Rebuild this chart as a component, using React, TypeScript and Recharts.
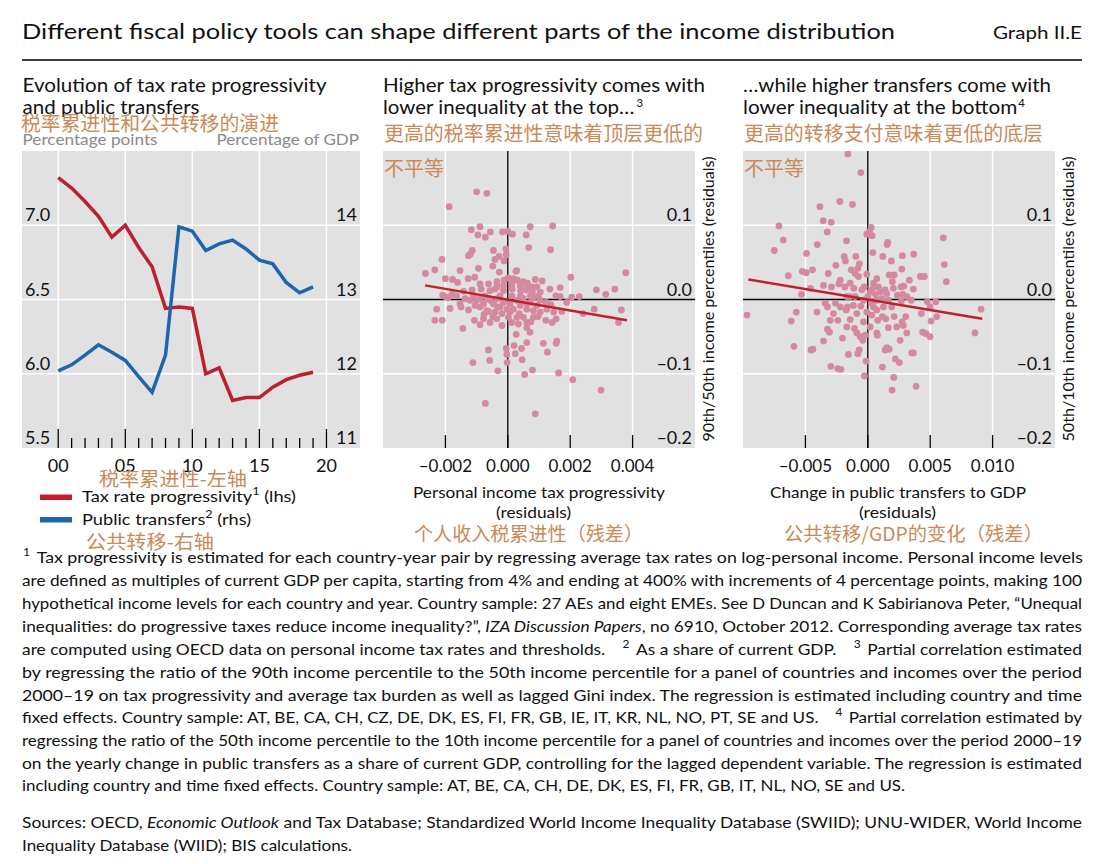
import React from 'react';
import { LineChart, Line, ScatterChart, Scatter, XAxis, YAxis, CartesianGrid, ReferenceLine } from 'recharts';

// Left panel: tax rate progressivity (lhs, pp) and public transfers (rhs, % of GDP)
const years = [2000, 2001, 2002, 2003, 2004, 2005, 2006, 2007, 2008, 2009, 2010, 2011, 2012, 2013, 2014, 2015, 2016, 2017, 2018, 2019];
const taxProgressivity = [7.32, 7.25, 7.16, 7.06, 6.92, 7.0, 6.85, 6.72, 6.44, 6.45, 6.44, 6.0, 6.04, 5.82, 5.84, 5.84, 5.91, 5.96, 5.99, 6.01];
const publicTransfers = [12.04, 12.12, 12.25, 12.39, 12.29, 12.18, 11.96, 11.75, 12.25, 13.98, 13.92, 13.66, 13.75, 13.8, 13.68, 13.53, 13.48, 13.23, 13.09, 13.17];
const yearTicks = [2000, 2001, 2002, 2003, 2004, 2005, 2006, 2007, 2008, 2009, 2010, 2011, 2012, 2013, 2014, 2015, 2016, 2017, 2018, 2019, 2020];
const yearGrid = [2000, 2005, 2010, 2015, 2020];
const lhsTicks = [5.5, 6.0, 6.5, 7.0];
const rhsTicks = [11, 12, 13, 14];

// Middle panel: 90th/50th residuals vs tax progressivity residuals
const topX = [
  -0.001, -0.00067, -0.00188, -0.00117, -0.00089, -0.00096, -0.00072, -0.00056, -0.00017, 0.0,
  0.00015, 0.00059, 0.00072, 0.00144, -0.00114, -0.00126, -0.0012, -0.00046, -0.00006, 0.00067,
  0.00137, -0.00211, -0.00041, -0.00028, -0.00012, -0.00005, -0.00264, -0.00234, -0.00153, -0.00094,
  -0.00048, -0.00027, 0.00026, 0.00029, -0.002, -0.00177, -0.00161, -0.00127, -0.00106, -0.00035,
  -0.00012, 0.00001, 0.00018, 0.00031, 0.0005, 0.00063, 0.00088, 0.0011, 0.00202, 0.00378,
  -0.00209, -0.00201, -0.00178, -0.00142, -0.00114, -0.00085, -0.00057, -0.00041, -0.00014, 0.00014,
  0.00041, 0.00059, 0.00079, 0.00097, 0.00135, 0.00154, 0.00168, 0.00168, 0.00229, 0.00284,
  0.00314, 0.00343, -0.00228, -0.00234, -0.0021, -0.00185, -0.0015, -0.00144, -0.00126, -0.00107,
  -0.00089, -0.00076, -0.00062, -0.00048, -0.00033, -0.00019, 0.00002, 0.00018, 0.00037, 0.00061,
  0.00074, 0.00097, 0.00122, 0.00142, 0.00155, 0.00123, 0.00138, 0.00241, 0.00277, 0.00355,
  0.00364, -0.001, -0.00078, -0.00057, -0.00035, -0.00014, 0.00007, 0.00029, 0.0005, 0.00072,
  0.00093, -0.00089, -0.00067, -0.00041, -0.00019, 0.00007, 0.00029, 0.0005, 0.00082, -0.0011,
  -0.00025, 0.0004, 0.00072, 0.00104, -0.00073, 0.00013, 0.00061, 0.00071, 0.00027, 0.00061,
  0.00044, 0.0002, 0.00024, -0.00005, -0.00003, -0.00002, -0.00062, -0.00058, -0.00112, -0.00032,
  0.00046, 0.00054, 0.00079, 0.00114, 0.00127, 0.00157, 0.00155, 0.00163, 0.00208, 0.00299, -0.00072, 0.00088,
  -0.00089, -0.00067, -0.00046, -0.00025, -0.00003, 0.0004, 0.00061, 0.00082, 0.00104, 0.00093,
  0.00077, 0.00061, 0.0004, 0.00013, -0.00014, -0.00035, -0.00062, -0.00089, -0.00105, -0.00121,
  -0.00137, -0.00153, -0.0019, -0.00164, -0.00078, -0.00057, -0.00035, 0.00013, 0.00034, 0.00061,
  0.00082, 0.00104, 0.00125, 0.00147, 0.00173, 0.00189, 0.00205,
];
const topY = [
  0.145, 0.143, 0.125, 0.094, 0.098, 0.087, 0.084, 0.091, 0.091, 0.092,
  0.088, 0.087, 0.098, 0.099, 0.066, 0.059, 0.061, 0.066, 0.068, 0.07,
  0.067, 0.054, 0.054, 0.058, 0.052, 0.06, 0.035, 0.04, 0.039, 0.042,
  0.045, 0.037, 0.038, 0.039, 0.028, 0.027, 0.023, 0.028, 0.03, 0.024,
  0.026, 0.029, 0.028, 0.026, 0.024, 0.022, 0.027, 0.025, 0.03, 0.036,
  0.006, 0.004, 0.007, 0.011, 0.013, 0.014, 0.012, 0.014, 0.012, 0.014,
  0.012, 0.013, 0.01, 0.004, 0.014, 0.005, 0.016, 0.004, 0.004, 0.013,
  0.007, 0.014, -0.013, -0.028, -0.028, -0.012, -0.01, -0.039, -0.014, -0.028,
  -0.034, -0.02, -0.016, -0.023, -0.01, -0.035, -0.024, -0.013, -0.019, -0.013,
  -0.03, -0.023, -0.028, -0.031, -0.026, -0.004, -0.007, -0.019, -0.013, -0.031,
  -0.014, -0.001, -0.006, -0.001, 0.001, -0.004, -0.006, -0.001, 0.001, -0.004,
  -0.008, -0.01, -0.015, -0.017, -0.019, -0.017, -0.024, -0.024, -0.015, 0.005,
  0.005, 0.005, 0.005, -0.001, 0.005, 0.005, -0.038, -0.044, -0.047, -0.058,
  -0.066, -0.062, -0.073, -0.066, -0.074, -0.085, -0.068, -0.082, -0.085, -0.096,
  -0.081, -0.101, -0.095, -0.059, -0.071, -0.056, -0.059, -0.099, -0.108, -0.122, -0.14, -0.154,
  0.001, 0.001, -0.006, -0.01, -0.013, -0.008, -0.005, 0.003, 0.01, 0.017,
  0.017, 0.019, 0.019, 0.021, 0.019, 0.017, 0.021, 0.021, -0.008, -0.001,
  0.001, -0.006, 0.003, 0.005, -0.026, -0.031, -0.026, -0.031, -0.033, -0.031,
  -0.024, -0.017, -0.013, -0.017, -0.016, -0.004, 0.003,
];
const topFitX = [-0.00265, 0.00382];
const topFitY = [0.019, -0.028];
const topXTicks = [-0.004, -0.002, 0, 0.002, 0.004];

// Right panel: 50th/10th residuals vs change in public transfers
const botX = [
  -0.0016, -0.00056, -0.00384, -0.00224, -0.00123, -0.00357, -0.00293, -0.00325, -0.00712, -0.00677,
  -0.00749, -0.00405, -0.00171, 0.00027, -0.00008, 0.00035, 0.00013, 0.0016, 0.00155, 0.00605,
  0.00613, 0.00629, -0.00491, -0.00189, -0.00096, 0.0004, 0.0012, 0.00189, 0.00277, 0.00368,
  -0.00256, -0.00179, -0.00133, -0.00101, -0.00067, -0.0008, -0.00637, -0.00525, -0.00493, -0.00443,
  -0.00317, -0.00008, 0.00045, 0.00072, 0.00171, 0.00211, 0.00272, 0.00267, 0.00288, 0.00333,
  0.00421, 0.00453, 0.00197, 0.00365, -0.00531, -0.00459, -0.00355, -0.00291, -0.00232, -0.00184,
  -0.00112, -0.00029, 0.0004, 0.00061, 0.00101, 0.00139, 0.00237, 0.0028, -0.00968, -0.00613,
  -0.00573, -0.00592, -0.00456, -0.0044, -0.00408, -0.00355, -0.00323, -0.00307, -0.00341, -0.00323,
  -0.00301, -0.00259, -0.0024, -0.00203, -0.00296, -0.0024, -0.00216, -0.00155, -0.00173, -0.00163,
  -0.00141, -0.00115, -0.00107, -0.00088, -0.00061, -0.0004, -0.00021, -0.00069, -0.0008, -0.00013,
  -0.00027, -0.00056, -0.00008, 0.00032, 0.0008, 0.00072, 0.00077, 0.00117, 0.00144, 0.00165,
  0.00211, 0.00152, 0.00171, 0.00139, 0.00117, 0.00221, 0.00253, 0.00208, 0.00195, 0.00387,
  0.00259, 0.00275, 0.00285, 0.00304, 0.00312, 0.00352, 0.00365, 0.00429, 0.0044, 0.00467,
  0.00499, 0.00507, 0.00477, 0.00544, 0.00552, 0.00499, 0.00349, 0.00269, 0.00859, 0.00907,
  0.0, 0.00032, 0.00072, 0.00112, -0.00035, -0.00101, -0.00168, 0.00165, 0.00045,
  -0.00221, -0.00141, -0.00075, -0.00048, 0.00019, 0.00085, 0.00152, 0.00205, -0.00221, -0.00141,
  -0.00088, -0.00035, 0.00019, 0.00072, 0.00125, 0.00192, 0.00232, -0.00168, -0.00275, 0.00312,
];
const botY = [
  0.196, 0.171, 0.125, 0.132, 0.128, 0.106, 0.104, 0.091, 0.099, 0.08,
  0.066, 0.074, 0.079, 0.097, 0.088, 0.086, 0.091, 0.077, 0.074, 0.083,
  0.047, 0.024, 0.062, 0.058, 0.058, 0.063, 0.058, 0.052, 0.059, 0.061,
  0.046, 0.052, 0.04, 0.035, 0.048, 0.042, 0.032, 0.038, 0.036, 0.04,
  0.035, 0.034, 0.022, 0.028, 0.033, 0.033, 0.041, 0.017, 0.018, 0.026,
  0.031, 0.031, 0.024, 0.014, 0.007, 0.015, 0.019, 0.017, 0.021, 0.017,
  0.015, 0.017, 0.015, 0.007, 0.01, 0.013, 0.006, 0.007, -0.021, -0.029,
  -0.017, -0.063, -0.068, -0.067, -0.017, -0.056, -0.04, -0.044, -0.005, -0.01,
  -0.028, -0.005, -0.028, -0.052, -0.09, -0.093, -0.094, -0.074, -0.014, -0.01,
  -0.027, -0.008, -0.039, -0.045, -0.05, -0.055, -0.048, -0.068, -0.073, -0.083,
  -0.103, -0.009, -0.017, -0.021, -0.028, -0.045, -0.048, -0.023, -0.026, -0.038,
  -0.023, -0.065, -0.067, -0.068, -0.091, -0.08, -0.085, -0.105, -0.122, -0.117,
  -0.055, -0.03, -0.035, -0.023, -0.045, -0.072, -0.072, -0.019, -0.044, -0.046,
  -0.05, -0.029, -0.003, -0.003, -0.023, -0.01, -0.001, -0.002, -0.045, -0.013,
  0.004, -0.005, -0.001, 0.001, -0.001, 0.004, 0.004, -0.001, -0.01,
  0.026, 0.022, 0.031, 0.013, 0.01, 0.017, 0.008, 0.015, -0.01, 0.004,
  -0.019, -0.03, -0.037, -0.014, -0.01, -0.01, -0.037, -0.037, -0.019, 0.004,
];
const botFitX = [-0.00957, 0.00917];
const botFitY = [0.027, -0.026];
const botXTicks = [-0.01, -0.005, 0, 0.005, 0.01];
const residTicks = [-0.2, -0.1, 0, 0.1];

const lineData = years.map((year, i) => ({ year, tax: taxProgressivity[i], transfers: publicTransfers[i] }));
const topData = topX.map((x, i) => ({ x, y: topY[i] }));
const topFit = topFitX.map((x, i) => ({ x, y: topFitY[i] }));
const botData = botX.map((x, i) => ({ x, y: botY[i] }));
const botFit = botFitX.map((x, i) => ({ x, y: botFitY[i] }));

const LATIN = 'Lato, "Open Sans", sans-serif';
const CJK = '"Noto Sans CJK SC", sans-serif';
const RED = '#be1e2d';
const BLUE = '#1f65ad';
const PINK = '#d5899e';
const FIT = '#c21f2e';
const BG = '#e1e1e1';
const ORANGE = '#c98a58';
const GREY = '#8a8a8a';
const INK = '#111';

const minus = (v: number, d: number) => (v < 0 ? '\u2013' + Math.abs(v).toFixed(d) : v.toFixed(d));

const YearTick = (p: any) => {
  const v = p.payload.value;
  const major = v % 5 === 0;
  return (
    <g>
      <line x1={p.x} x2={p.x} y1={p.y} y2={p.y - (major ? 19 : 10)} stroke="#000" strokeWidth={1.3} />
      {major && (
        <text x={p.x} y={p.y + 24} textAnchor="middle" fontSize={18} fill={INK} fontFamily={LATIN}>
          {String(v).slice(2)}
        </text>
      )}
    </g>
  );
};

const makeResidXTick = (first: number) => (p: any) => {
  const v = p.payload.value;
  if (v === first) return <g />;
  return (
    <g>
      <line x1={p.x} x2={p.x} y1={p.y} y2={p.y - 13} stroke="#000" strokeWidth={1.3} />
      <text x={p.x} y={p.y + 24} textAnchor="middle" fontSize={17} fill={INK} fontFamily={LATIN}>
        {minus(v, 3)}
      </text>
    </g>
  );
};

const InsideTick = (anchor: 'start' | 'end', fmt: (v: number) => string) => (p: any) => (
  <text x={p.x} y={p.y - 4} textAnchor={anchor} fontSize={18} fill={INK} fontFamily={LATIN}>
    {fmt(p.payload.value)}
  </text>
);

const Txt = ({ x, y, w, size = 16, fill = INK, font = LATIN, anchor = 'start', transform, italic, children }: any) => (
  <text
    x={x}
    y={y}
    fontSize={size}
    fill={fill}
    fontFamily={font}
    textAnchor={anchor}
    transform={transform}
    fontStyle={italic ? 'italic' : undefined}
    textLength={w}
    lengthAdjust={w ? 'spacingAndGlyphs' : undefined}
  >
    {children}
  </text>
);

const Sup = ({ n, dx = 0 }: { n: string; dx?: number }) => (
  <tspan dx={dx} dy={-7} fontSize={11}>{n}</tspan>
);

const ResidChart = ({ data, fit, domain, ticks, grid, first }: any) => (
  <ScatterChart width={312} height={337} margin={{ top: 0, right: 0, bottom: 0, left: 0 }} style={{ overflow: 'visible' }}>
    <CartesianGrid fill={BG} stroke="#fff" strokeWidth={1.5} verticalValues={grid} horizontalValues={[-0.1, 0.1]} />
    <XAxis
      type="number"
      dataKey="x"
      domain={domain}
      allowDataOverflow
      ticks={ticks}
      interval={0}
      height={40}
      tickSize={0}
      tickMargin={0}
      tickLine={false}
      axisLine={false}
      tick={makeResidXTick(first)}
    />
    <YAxis
      type="number"
      dataKey="y"
      orientation="right"
      mirror
      domain={[-0.2, 0.2]}
      allowDataOverflow
      ticks={residTicks}
      interval={0}
      tickSize={0}
      tickMargin={3}
      tickLine={false}
      axisLine={false}
      tick={InsideTick('end', (v) => (v === 0 ? '0.0' : minus(v, 1)))}
    />
    <ReferenceLine x={0} stroke="#000" strokeWidth={1.3} />
    <ReferenceLine y={0} stroke="#000" strokeWidth={1.3} />
    <Scatter
      data={data}
      isAnimationActive={false}
      shape={(p: any) => <circle cx={p.cx} cy={p.cy} r={3.4} fill={PINK} />}
    />
    <Scatter
      data={fit}
      isAnimationActive={false}
      line={{ stroke: FIT, strokeWidth: 2.5 }}
      shape={() => <g />}
    />
  </ScatterChart>
);

const foot = [563, 586, 609, 632, 655, 678, 701, 723, 746, 769, 791];

export default function App() {
  return (
    <div style={{ position: 'absolute', left: 0, top: 0, width: 1120, height: 864, background: '#fff', overflow: 'hidden' }}>
      <div style={{ position: 'absolute', left: 22, top: 151 }}>
        <LineChart width={338} height={337} data={lineData} margin={{ top: 0, right: 0, bottom: 0, left: 0 }} style={{ overflow: 'visible' }}>
          <CartesianGrid fill={BG} stroke="#fff" strokeWidth={1.5} verticalValues={yearGrid} horizontalValues={[6.0, 6.5, 7.0]} />
          <XAxis
            type="number"
            dataKey="year"
            domain={[1997.3, 2022.5]}
            allowDataOverflow
            ticks={yearTicks}
            interval={0}
            height={40}
            tickSize={0}
            tickMargin={0}
            tickLine={false}
            axisLine={false}
            tick={YearTick}
          />
          <YAxis
            yAxisId={0}
            mirror
            domain={[5.5, 7.5]}
            allowDataOverflow
            ticks={lhsTicks}
            interval={0}
            tickSize={0}
            tickMargin={3}
            tickLine={false}
            axisLine={false}
            tick={InsideTick('start', (v) => v.toFixed(1))}
          />
          <YAxis
            yAxisId="r"
            orientation="right"
            mirror
            domain={[11, 15]}
            allowDataOverflow
            ticks={rhsTicks}
            interval={0}
            tickSize={0}
            tickMargin={3}
            tickLine={false}
            axisLine={false}
            tick={InsideTick('end', (v) => String(v))}
          />
          <Line yAxisId={0} dataKey="tax" stroke={RED} strokeWidth={3.5} dot={false} isAnimationActive={false} />
          <Line yAxisId="r" dataKey="transfers" stroke={BLUE} strokeWidth={3.5} dot={false} isAnimationActive={false} />
        </LineChart>
      </div>

      <div style={{ position: 'absolute', left: 383, top: 151 }}>
        <ResidChart data={topData} fit={topFit} domain={[-0.004, 0.006]} ticks={topXTicks} grid={[-0.002, 0.002, 0.004]} first={-0.004} />
      </div>

      <div style={{ position: 'absolute', left: 743, top: 151 }}>
        <ResidChart data={botData} fit={botFit} domain={[-0.01, 0.015]} ticks={botXTicks} grid={[-0.005, 0.005, 0.01]} first={-0.01} />
      </div>

      <svg width={1120} height={864} style={{ position: 'absolute', left: 0, top: 0, pointerEvents: 'none' }}>
        <Txt x={22} y={39} size={22} w={873}>Different fiscal policy tools can shape different parts of the income distribution</Txt>
        <Txt x={993} y={39} size={17} w={89}>Graph II.E</Txt>
        <line x1={22} x2={1082} y1={60} y2={60} stroke="#000" strokeWidth={1.5} />

        {/* left panel headings */}
        <Txt x={22.5} y={91.5} size={20} w={304}>Evolution of tax rate progressivity</Txt>
        <Txt x={22.5} y={113.5} size={20} w={177}>and public transfers</Txt>
        <Txt x={21} y={131} size={20} w={258} font={CJK} fill={ORANGE}>税率累进性和公共转移的演进</Txt>
        <Txt x={22.5} y={145} size={16} w={135} fill={GREY}>Percentage points</Txt>
        <Txt x={216.5} y={145} size={16} w={142.5} fill={GREY}>Percentage of GDP</Txt>

        {/* middle panel headings */}
        <Txt x={383} y={91.5} size={20} w={322}>Higher tax progressivity comes with</Txt>
        <Txt x={383} y={113.5} size={20} w={260}>lower inequality at the top…<Sup n="3" dx={2} /></Txt>
        <Txt x={384} y={141} size={20} w={319} font={CJK} fill={ORANGE}>更高的税率累进性意味着顶层更低的</Txt>
        <Txt x={384} y={176} size={20} w={60} font={CJK} fill={ORANGE}>不平等</Txt>
        <Txt x={714} y={299} size={16} w={285} anchor="middle" transform="rotate(-90 714 299)">90th/50th income percentiles (residuals)</Txt>

        {/* right panel headings */}
        <Txt x={743} y={91.5} size={20} w={308}>…while higher transfers come with</Txt>
        <Txt x={743} y={113.5} size={20} w={282}>lower inequality at the bottom<Sup n="4" dx={1} /></Txt>
        <Txt x={744} y={141} size={20} w={299} font={CJK} fill={ORANGE}>更高的转移支付意味着更低的底层</Txt>
        <Txt x={744} y={176} size={20} w={60} font={CJK} fill={ORANGE}>不平等</Txt>
        <Txt x={1074} y={299} size={16} w={285} anchor="middle" transform="rotate(-90 1074 299)">50th/10th income percentiles (residuals)</Txt>

        {/* axis titles */}
        <Txt x={413} y={498} size={16} w={252}>Personal income tax progressivity</Txt>
        <Txt x={496} y={518} size={16} w={75}>(residuals)</Txt>
        <Txt x={414} y={541} size={19} w={229} font={CJK} fill={ORANGE}>个人收入税累进性（残差）</Txt>
        <Txt x={770} y={498} size={16} w={256}>Change in public transfers to GDP</Txt>
        <Txt x={859} y={518} size={16} w={77}>(residuals)</Txt>
        <Txt x={784} y={541} size={19} w={259} font={CJK} fill={ORANGE}>公共转移/GDP的变化（残差）</Txt>

        {/* legend */}
        <Txt x={99} y={486} size={19} w={148} font={CJK} fill={ORANGE}>税率累进性-左轴</Txt>
        <rect x={40} y={494.5} width={32} height={5.5} fill={RED} />
        <Txt x={82} y={502} size={16} w={214}>Tax rate progressivity<Sup n="1" /><tspan dy={7}> (lhs)</tspan></Txt>
        <rect x={40} y={517} width={32} height={5.5} fill={BLUE} />
        <Txt x={82} y={525} size={16} w={169}>Public transfers<Sup n="2" /><tspan dy={7}> (rhs)</tspan></Txt>
        <Txt x={86} y={549} size={19} w={128} font={CJK} fill={ORANGE}>公共转移-右轴</Txt>

        {/* footnotes */}
        <Txt x={22} y={foot[0]} w={1060}><Sup n="1" dx={1} /><tspan dy={7} dx={6}>Tax progressivity is estimated for each country-year pair by regressing average tax rates on log-personal income. Personal income levels</tspan></Txt>
        <Txt x={22} y={foot[1]} w={1060}>are defined as multiples of current GDP per capita, starting from 4% and ending at 400% with increments of 4 percentage points, making 100</Txt>
        <Txt x={22} y={foot[2]} w={1060}>hypothetical income levels for each country and year. Country sample: 27 AEs and eight EMEs. See D Duncan and K Sabirianova Peter, “Unequal</Txt>
        <Txt x={22} y={foot[3]} w={1060}>inequalities: do progressive taxes reduce income inequality?”, <tspan fontStyle="italic">IZA Discussion Papers</tspan>, no 6910, October 2012. Corresponding average tax rates</Txt>
        <Txt x={22} y={foot[4]} w={1060}>are computed using OECD data on personal income tax rates and thresholds.<Sup n="2" dx={16} /><tspan dy={7} dx={6}>As a share of current GDP.</tspan><Sup n="3" dx={16} /><tspan dy={7} dx={6}>Partial correlation estimated</tspan></Txt>
        <Txt x={22} y={foot[5]} w={1060}>by regressing the ratio of the 90th income percentile to the 50th income percentile for a panel of countries and incomes over the period</Txt>
        <Txt x={22} y={foot[6]} w={1060}>2000–19 on tax progressivity and average tax burden as well as lagged Gini index. The regression is estimated including country and time</Txt>
        <Txt x={22} y={foot[7]} w={1060}>fixed effects. Country sample: AT, BE, CA, CH, CZ, DE, DK, ES, FI, FR, GB, IE, IT, KR, NL, NO, PT, SE and US.<Sup n="4" dx={16} /><tspan dy={7} dx={6}>Partial correlation estimated by</tspan></Txt>
        <Txt x={22} y={foot[8]} w={1060}>regressing the ratio of the 50th income percentile to the 10th income percentile for a panel of countries and incomes over the period 2000–19</Txt>
        <Txt x={22} y={foot[9]} w={1060}>on the yearly change in public transfers as a share of current GDP, controlling for the lagged dependent variable. The regression is estimated</Txt>
        <Txt x={22} y={foot[10]} w={883}>including country and time fixed effects. Country sample: AT, BE, CA, CH, DE, DK, ES, FI, FR, GB, IT, NL, NO, SE and US.</Txt>
        <Txt x={22} y={828} w={1060}>Sources: OECD, <tspan fontStyle="italic">Economic Outlook</tspan> and Tax Database; Standardized World Income Inequality Database (SWIID); UNU-WIDER, World Income</Txt>
        <Txt x={22} y={851} w={330}>Inequality Database (WIID); BIS calculations.</Txt>
      </svg>
    </div>
  );
}
